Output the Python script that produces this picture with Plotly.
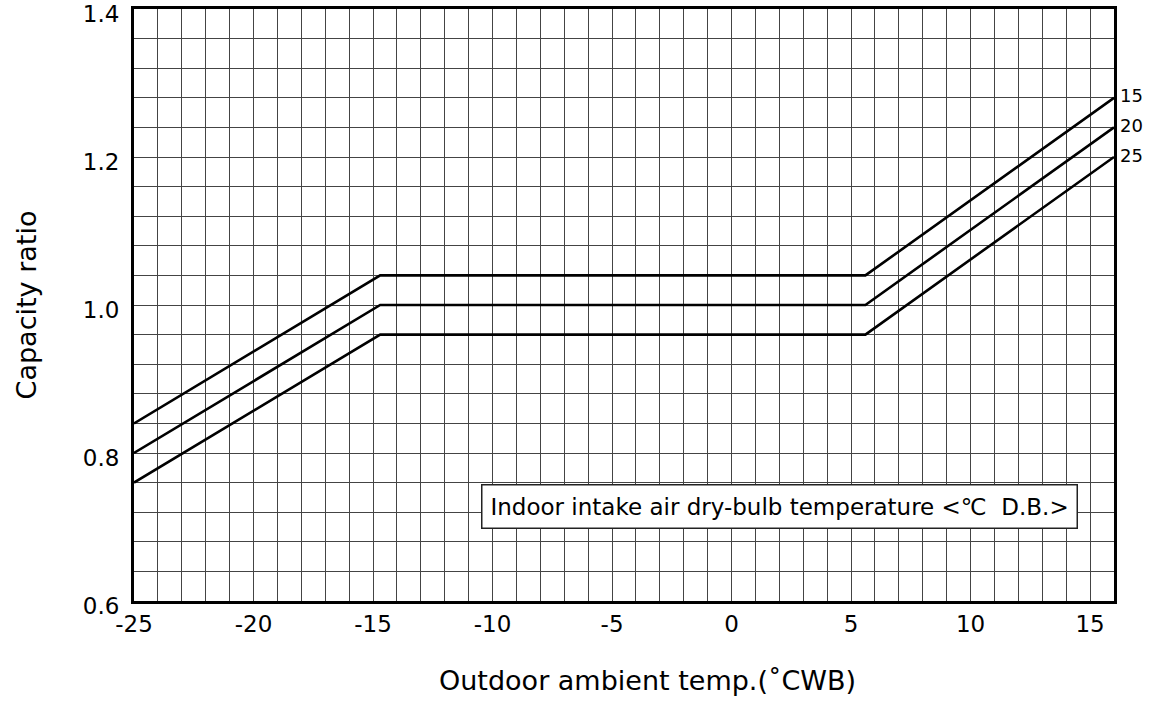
import plotly.graph_objects as go

# Data
series_names = ["15", "20", "25"]          # indoor intake air dry-bulb temperature (°C D.B.)
x_points = [-25, -14.7, 5.6, 16]           # outdoor ambient temp (°CWB) breakpoints
y_15 = [0.84, 1.04, 1.04, 1.28]
y_20 = [0.80, 1.00, 1.00, 1.24]
y_25 = [0.76, 0.96, 0.96, 1.20]
x_tick_vals = [-25, -20, -15, -10, -5, 0, 5, 10, 15]
y_tick_vals = [0.6, 0.8, 1.0, 1.2, 1.4]
y_tick_text = ["0.6", "0.8", "1.0", "1.2", "1.4"]

FONT = "DejaVu Sans"

fig = go.Figure()
for name, ys in zip(series_names, [y_15, y_20, y_25]):
    fig.add_trace(go.Scatter(
        x=x_points, y=ys, mode="lines", name=name,
        line=dict(color="black", width=2.6), showlegend=False,
        cliponaxis=False,
    ))
    fig.add_annotation(x=x_points[-1], y=ys[-1], text=name, showarrow=False,
                       xanchor="left", yanchor="middle", xshift=4, yshift=2,
                       font=dict(family=FONT, size=18, color="black"))

fig.add_annotation(
    x=2.0, y=0.7277, xref="x", yref="y",
    text="Indoor intake air dry-bulb temperature <℃  D.B.>",
    showarrow=False, font=dict(family=FONT, size=23, color="black"),
    bgcolor="white", bordercolor="#222", borderwidth=1.5, borderpad=8,
)

# x-axis title (placed as a paper annotation, slightly right of centre as in the reference)
fig.add_annotation(
    x=0.5235, y=-0.134, xref="paper", yref="paper",
    text="Outdoor ambient temp.(˚CWB)", showarrow=False,
    xanchor="center", yanchor="middle",
    font=dict(family=FONT, size=27, color="black"),
)

grid_color = "#444444"
fig.update_xaxes(
    range=[-25, 16], tickvals=x_tick_vals, ticktext=[str(v) for v in x_tick_vals],
    showgrid=True, gridcolor=grid_color, gridwidth=1,
    minor=dict(dtick=1, tick0=-25, showgrid=True, gridcolor=grid_color, gridwidth=1),
    showline=True, linecolor="black", linewidth=3, mirror=True,
    ticks="", zeroline=False, ticklabeloverflow="allow",
    tickfont=dict(family=FONT, size=23, color="black"),
)
fig.update_yaxes(
    range=[0.6, 1.4], tickvals=y_tick_vals, ticktext=y_tick_text,
    showgrid=True, gridcolor=grid_color, gridwidth=1,
    minor=dict(dtick=0.04, tick0=0.6, showgrid=True, gridcolor=grid_color, gridwidth=1),
    showline=True, linecolor="black", linewidth=3, mirror=True,
    ticks="", zeroline=False, ticklabeloverflow="allow", ticklabelstandoff=7,
    ticklabelshift=5,
    tickfont=dict(family=FONT, size=23, color="black"),
    title=dict(text="Capacity ratio", font=dict(family=FONT, size=27, color="black"),
               standoff=39),
)
fig.update_layout(
    width=1156, height=702,
    margin=dict(l=134, r=42, t=9, b=101, autoexpand=False),
    paper_bgcolor="white", plot_bgcolor="white",
)
fig.write_html("out.html", config={"displayModeBar": False},
               post_script="document.body.style.margin='0';")
